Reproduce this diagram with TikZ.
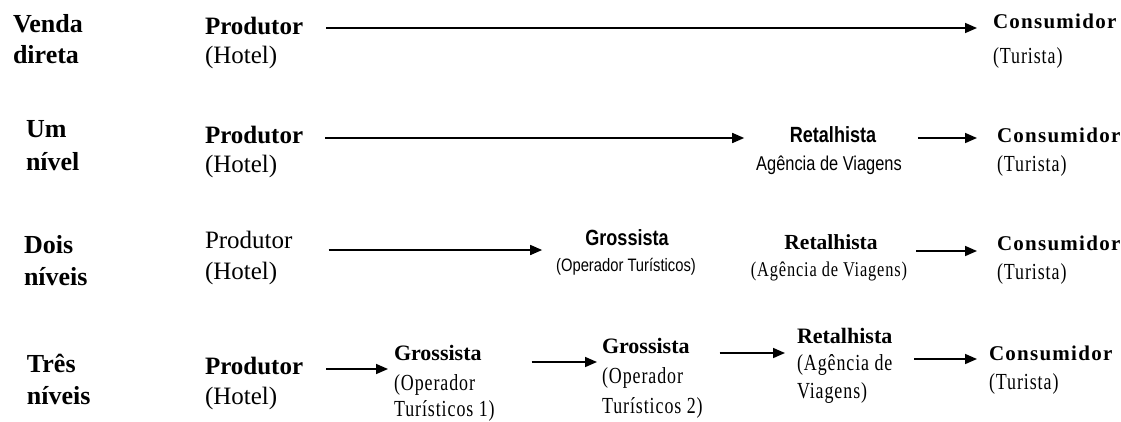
\documentclass[tikz,border=0pt]{standalone}
\usepackage{fontspec}
\setmainfont{Liberation Serif}
\newfontfamily\narrowsans[FakeStretch=0.82]{Liberation Sans}
\newfontfamily\spacedserif[LetterSpace=6]{Liberation Serif}
\newfontfamily\tallserif[FakeStretch=0.78,LetterSpace=4]{Liberation Serif}
\usetikzlibrary{arrows.meta,calc}

\tikzset{
  lt/.style={anchor=base west, inner sep=0pt, outer sep=0pt},
  ct/.style={anchor=base, inner sep=0pt, outer sep=0pt},
  rowlabel/.style={lt, font=\fontsize{26}{30}\selectfont\bfseries},
  boldname/.style={font=\fontsize{25}{30}\selectfont\bfseries},
  plainname/.style={font=\fontsize{25}{30}\selectfont},
  midbold/.style={font=\fontsize{22}{26}\selectfont\bfseries},
  consname/.style={lt, font=\spacedserif\bfseries\fontsize{21}{25}\selectfont},
  subnote/.style={font=\tallserif\fontsize{23}{27}\selectfont},
  narrowbold/.style={font=\narrowsans\bfseries\fontsize{22}{26}\selectfont},
  narrowplain/.style={font=\narrowsans\fontsize{20}{24}\selectfont},
  flow/.style={-{Triangle[length=12pt,width=10pt]}, line width=1.6pt},
}

\begin{document}
\begin{tikzpicture}[x=1pt,y=-1pt]
\useasboundingbox (0,0) rectangle (1121,421);

% --- Venda direta ---
\node[rowlabel] (v1a) at (13,32) {Venda};
\node[rowlabel] (v1b) at (13,63) {direta};
\node[lt,boldname] (p1) at (205,34) {Produtor};
\node[lt,plainname] (h1) at (205,63) {(Hotel)};
\node[consname] (c1) at (993,28) {Consumidor};
\node[lt,subnote] (u1) at (993,63) {(Turista)};
\draw[flow] ($(p1.base east)+(23,-6)$) -- ($(p1.base east -| c1.base west)+(-16,-6)$);

% --- Um nivel ---
\node[rowlabel] (v2a) at (26,137) {Um};
\node[rowlabel] (v2b) at (26,170) {nível};
\node[lt,boldname] (p2) at (205,143) {Produtor};
\node[lt,plainname] (h2) at (205,172) {(Hotel)};
\node[ct,narrowbold] (r2) at (833,142) {Retalhista};
\node[ct,narrowplain] (a2) at (829,170) {Agência de Viagens};
\node[consname] (c2) at (997,142) {Consumidor};
\node[lt,subnote] (u2) at (997,171) {(Turista)};
\draw[flow] ($(p2.base east)+(22,-5)$) -- ($(p2.base east -| a2.west)+(-12,-5)$);
\draw[flow] ($(r2.base east -| a2.east)+(16,-4)$) -- ($(r2.base east -| c2.west)+(-20,-4)$);

% --- Dois niveis ---
\node[rowlabel] (v3a) at (24,253) {Dois};
\node[rowlabel] (v3b) at (24,285) {níveis};
\node[lt,plainname] (p3) at (205,248) {Produtor};
\node[lt,plainname] (h3) at (205,279) {(Hotel)};
\node[ct,narrowbold] (g3) at (627,245) {Grossista};
\node[ct,font=\narrowsans\fontsize{18}{22}\selectfont] (o3) at (626,271) {(Operador Turísticos)};
\node[ct,font=\fontsize{21.5}{26}\selectfont\bfseries] (r3) at (831,249) {Retalhista};
\node[ct,font=\tallserif\fontsize{21}{25}\selectfont] (a3) at (829,276) {(Agência de Viagens)};
\node[consname] (c3) at (997,250) {Consumidor};
\node[lt,subnote] (u3) at (997,279) {(Turista)};
\draw[flow] ($(p3.base east)+(36,2)$) -- ($(p3.base east -| o3.west)+(-14,2)$);
\draw[flow] ($(r3.base east -| a3.east)+(9,2)$) -- ($(r3.base east -| c3.west)+(-20,2)$);

% --- Tres niveis ---
\node[rowlabel] (v4a) at (27,372) {Três};
\node[rowlabel] (v4b) at (27,404) {níveis};
\node[lt,boldname] (p4) at (205,374) {Produtor};
\node[lt,plainname] (h4) at (205,404) {(Hotel)};
\node[lt,midbold] (g4a) at (394,360) {Grossista};
\node[lt,subnote] (o4a) at (394,390) {(Operador};
\node[lt,subnote] (k4a) at (394,416) {Turísticos 1)};
\node[lt,midbold] (g4b) at (602,353) {Grossista};
\node[lt,subnote] (o4b) at (602,383) {(Operador};
\node[lt,subnote] (k4b) at (602,413) {Turísticos 2)};
\node[lt,midbold] (r4) at (797,343) {Retalhista};
\node[lt,subnote] (a4a) at (797,370) {(Agência de};
\node[lt,subnote] (a4b) at (797,398) {Viagens)};
\node[consname] (c4) at (989,360) {Consumidor};
\node[lt,subnote] (u4) at (989,389) {(Turista)};
\draw[flow] ($(p4.base east)+(23,-5)$) -- ($(p4.base east -| g4a.west)+(-6,-5)$);
\draw[flow] ($(g4a.base east)+(50,2)$) -- ($(g4a.base east -| g4b.west)+(-5,2)$);
\draw[flow] ($(g4b.base east)+(30,0)$) -- ($(g4b.base east -| r4.west)+(-12,0)$);
\draw[flow] ($(c4.base west -| a4a.east)+(22,-1)$) -- ($(c4.base west)+(-12,-1)$);
\end{tikzpicture}
\end{document}
